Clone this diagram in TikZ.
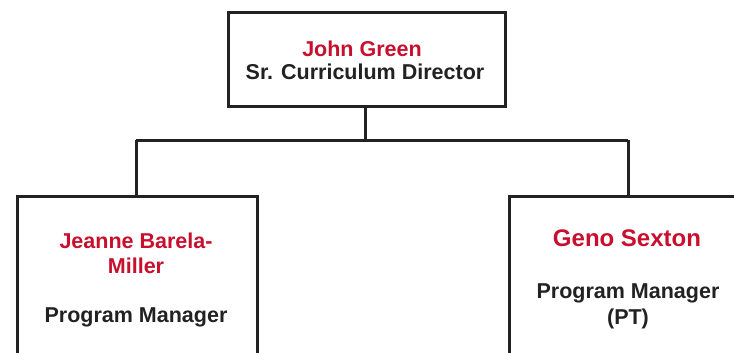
\documentclass[tikz,border=0pt]{standalone}
\usepackage{fontspec}
\setmainfont{Liberation Sans}
\definecolor{namered}{HTML}{C8102E}
\definecolor{ink}{HTML}{222222}
\begin{document}
\begin{tikzpicture}[x=1pt,y=-1pt,
  box/.style={draw=ink,line width=3pt,rectangle,inner sep=0pt,anchor=north west},
  conn/.style={draw=ink,line width=3pt},
  nm/.style={text=namered,font=\fontsize{21.5}{25}\selectfont\bfseries,anchor=base,inner sep=0pt},
  nmbig/.style={text=namered,font=\fontsize{24}{28}\selectfont\bfseries,anchor=base,inner sep=0pt},
  role/.style={text=ink,font=\fontsize{21.5}{25}\selectfont\bfseries,anchor=base,inner sep=0pt}]
\useasboundingbox (0,0) rectangle (734,353);
\clip (0,0) rectangle (734,353);
\fill[white] (0,0) rectangle (734,353);
% boxes
\node[box,minimum width=277pt,minimum height=93pt] (top) at (227,11.5) {};
\node[box,minimum width=240pt,minimum height=190pt] (left) at (16,194.5) {};
\node[box,minimum width=240pt,minimum height=190pt] (right) at (508,195) {};
% junction
\coordinate (hj) at (365,140);
\coordinate (hl) at (136,140);
\coordinate (hr) at (628,140);
\draw[conn] (top.south -| hj) -- (hj);
\draw[conn] (hl) -- (hr);
\draw[conn] (hl) -- (hl |- left.north);
\draw[conn] (hr) -- (hr |- right.north);
% texts
\node[nm] (t1) at (362,57) {John Green};
\node[role] (t2) at (365,80) {Sr. Curriculum Director};
\node[nm] (l1) at (136,248) {Jeanne Barela-};
\node[nm] (l2) at (136,273) {Miller};
\node[role] (l3) at (136,322) {Program Manager};
\node[nmbig] (r1) at (627,246) {Geno Sexton};
\node[role] (r2) at (628,298) {Program Manager};
\node[role] (r3) at (628,324) {(PT)};
\end{tikzpicture}
\end{document}
